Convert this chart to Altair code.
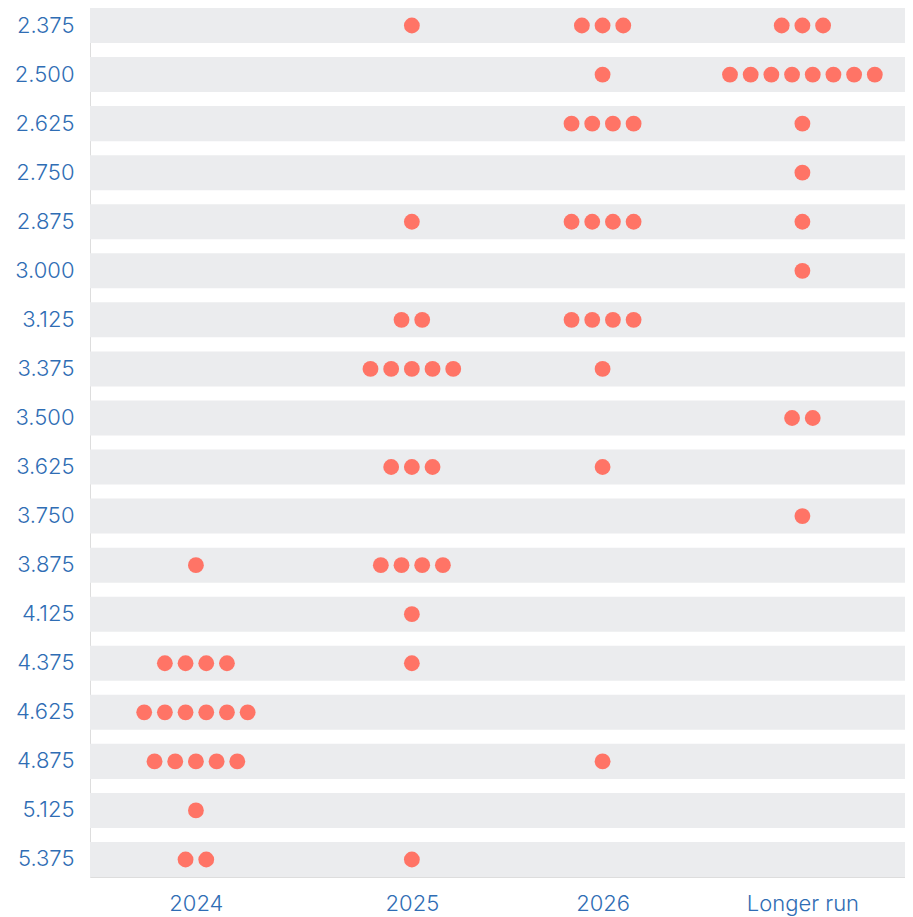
import altair as alt
import pandas as pd

rates = ["2.375", "2.500", "2.625", "2.750", "2.875", "3.000", "3.125", "3.375", "3.500",
         "3.625", "3.750", "3.875", "4.125", "4.375", "4.625", "4.875", "5.125", "5.375"]
columns = ["2024", "2025", "2026", "Longer run"]
col_centers = [5.12, 15.56, 24.78, 34.44]

counts_2024 = [0, 0, 0, 0, 0, 0, 0, 0, 0, 0, 0, 1, 0, 4, 6, 5, 1, 2]
counts_2025 = [1, 0, 0, 0, 1, 0, 2, 5, 0, 3, 0, 4, 1, 1, 0, 0, 0, 1]
counts_2026 = [3, 1, 4, 0, 4, 0, 4, 1, 0, 1, 0, 0, 0, 0, 0, 1, 0, 0]
counts_lr   = [3, 8, 1, 1, 1, 1, 0, 0, 2, 0, 1, 0, 0, 0, 0, 0, 0, 0]

all_counts = [counts_2024, counts_2025, counts_2026, counts_lr]

rows = []
for col, center, counts in zip(columns, col_centers, all_counts):
    for rate, n in zip(rates, counts):
        for i in range(n):
            rows.append({"column": col, "rate": rate, "x": center + i - (n - 1) / 2})
dots = pd.DataFrame(rows)
bands = pd.DataFrame({"rate": rates})

BLUE = "#2f6db4"
FONT = "Inter"
W = 815
H = 869

label_expr = " : ".join(
    f"datum.value == {c} ? '{name}'" for c, name in zip(col_centers, columns)
) + " : ''"

y_enc = alt.Y("rate:N", sort=rates,
              scale=alt.Scale(paddingInner=0.286, paddingOuter=0),
              axis=alt.Axis(title=None, domain=False, ticks=False, grid=False,
                            labelColor=BLUE, labelFontSize=22, labelFont=FONT,
                            labelPadding=16, labelFontWeight=300))

band_layer = alt.Chart(bands).mark_bar(color="#ebecee").encode(
    y=y_enc,
    x=alt.value(0),
    x2=alt.value(W),
)

dot_layer = alt.Chart(dots).mark_circle(color="#ff7466", opacity=1, size=250).encode(
    x=alt.X("x:Q", scale=alt.Scale(domain=[0, 39.4], nice=False, zero=False),
            axis=alt.Axis(title=None, values=col_centers, labelExpr=label_expr,
                          domain=False, ticks=False, grid=False, labelColor=BLUE,
                          labelFontSize=22, labelFont=FONT, labelPadding=16,
                          labelFontWeight=300)),
    y=alt.Y("rate:N", sort=rates),
)

chart = alt.layer(band_layer, dot_layer).properties(
    width=W, height=H,
    autosize=alt.AutoSizeParams(type="none"),
    padding={"left": 82, "top": 0, "right": 0, "bottom": 40},
).configure_view(stroke=None).configure(background="white")

chart.save("out.html", embed_options={"renderer": "svg", "actions": False})
